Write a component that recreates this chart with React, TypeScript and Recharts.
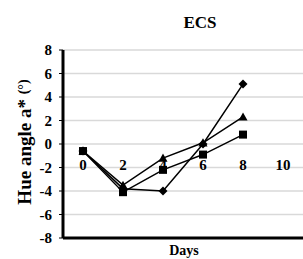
import { LineChart, Line, XAxis, YAxis, CartesianGrid } from 'recharts';

const days = [0, 2, 4, 6, 8];
const diamondValues = [-0.6, -3.8, -4.0, 0.0, 5.1];
const triangleValues = [-0.6, -3.5, -1.2, 0.1, 2.3];
const squareValues = [-0.6, -4.1, -2.2, -0.9, 0.8];
const xTicks = [0, 2, 4, 6, 8, 10];
const yTicks = [-8, -6, -4, -2, 0, 2, 4, 6, 8];

const data = days.map((d, i) => ({
  day: d,
  diamond: diamondValues[i],
  triangle: triangleValues[i],
  square: squareValues[i],
}));

const W = 303;
const H = 259;
const xAxisH = 21;
const margin = { top: 50, right: 0, left: 0, bottom: 0 };
const plotH = H - margin.top - margin.bottom - xAxisH;
const font = '"Liberation Serif", "Times New Roman", serif';

const Diamond = (p: any) => {
  const { cx, cy } = p;
  if (cx == null || cy == null) return null;
  const s = 4.5;
  return <path d={`M${cx},${cy - s}L${cx + s},${cy}L${cx},${cy + s}L${cx - s},${cy}Z`} fill='#000' />;
};

const Triangle = (p: any) => {
  const { cx, cy } = p;
  if (cx == null || cy == null) return null;
  const s = 4.5;
  return <path d={`M${cx},${cy - s}L${cx + s},${cy + s * 0.8}L${cx - s},${cy + s * 0.8}Z`} fill='#000' />;
};

const Square = (p: any) => {
  const { cx, cy } = p;
  if (cx == null || cy == null) return null;
  const s = 4;
  return <rect x={cx - s} y={cy - s} width={s * 2} height={s * 2} fill='#000' />;
};

// x labels sit just under the zero line, not at the bottom axis
const XTick = (p: any) => {
  const { x, y, payload } = p;
  const shift = plotH / 2;
  return (
    <text x={x} y={y - shift + 18} textAnchor='middle' fontFamily={font} fontWeight='bold' fontSize={15} fill='#000'>
      {payload.value}
    </text>
  );
};

export default function App() {
  return (
    <div style={{ position: 'absolute', left: 0, top: 0, width: W, height: H, background: '#fff', overflow: 'hidden' }}>
      <LineChart width={W} height={H} data={data} margin={margin}>
        <text x={200} y={28} textAnchor='middle' fontFamily={font} fontWeight='bold' fontSize={17} fill='#000'>
          ECS
        </text>
        <text
          x={0}
          y={0}
          transform='translate(31,142) rotate(-90)'
          textAnchor='middle'
          fontFamily={font}
          fontWeight='bold'
          fontSize={19}
          fill='#000'
        >
          Hue angle a* <tspan fontSize={14} dy={-3}>(°)</tspan>
        </text>
        <text x={184} y={255} textAnchor='middle' fontFamily={font} fontWeight='bold' fontSize={14} fill='#000'>
          Days
        </text>
        <CartesianGrid horizontal vertical={false} stroke='#d9d9d9' strokeWidth={1.5} />
        <XAxis
          dataKey='day'
          type='number'
          domain={[-1, 11]}
          ticks={xTicks}
          interval={0}
          tickLine={false}
          axisLine={{ stroke: '#000', strokeWidth: 3 }}
          tick={<XTick />}
          height={xAxisH}
        />
        <YAxis
          type='number'
          domain={[-8, 8]}
          ticks={yTicks}
          interval={0}
          width={63}
          tickLine={{ stroke: '#000', strokeWidth: 1 }}
          tickSize={4}
          tickMargin={7}
          axisLine={{ stroke: '#000', strokeWidth: 3 }}
          tick={{ fill: '#000', fontFamily: font, fontWeight: 'bold', fontSize: 15 }}
        />
        <Line dataKey='diamond' stroke='#000' strokeWidth={1.5} dot={<Diamond />} isAnimationActive={false} />
        <Line dataKey='triangle' stroke='#000' strokeWidth={1.5} dot={<Triangle />} isAnimationActive={false} />
        <Line dataKey='square' stroke='#000' strokeWidth={1.5} dot={<Square />} isAnimationActive={false} />
      </LineChart>
    </div>
  );
}
